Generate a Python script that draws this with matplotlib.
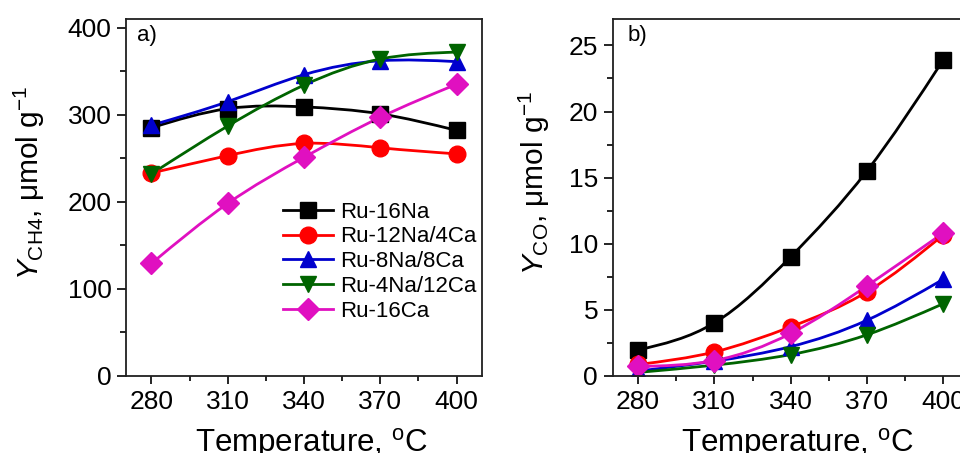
import matplotlib
matplotlib.use("Agg")
import matplotlib.pyplot as plt
import numpy as np
from matplotlib.path import Path
from matplotlib.patches import PathPatch
from matplotlib.lines import Line2D

plt.rcParams['font.family'] = ['Liberation Sans', 'DejaVu Sans']
plt.rcParams['mathtext.fontset'] = 'custom'
plt.rcParams['mathtext.rm'] = 'Liberation Sans'
plt.rcParams['mathtext.it'] = 'Liberation Sans:italic'

temps = [280, 310, 340, 370, 400]
labels = ['Ru-16Na', 'Ru-12Na/4Ca', 'Ru-8Na/8Ca', 'Ru-4Na/12Ca', 'Ru-16Ca']
colors = ['#000000', '#FF0000', '#0000CD', '#006400', '#E010C0']
markers = ['s', 'o', '^', 'v', 'D']
msizes = [11.5, 12, 12, 12, 11]

# methane yield, umol/g
y_ch4_16na = [285, 307, 309, 301, 282]
y_ch4_12na4ca = [233, 253, 267, 262, 255]
y_ch4_8na8ca = [288, 315, 346, 362, 361]
y_ch4_4na12ca = [232, 287, 334, 364, 372]
y_ch4_16ca = [129, 198, 251, 297, 335]

# CO yield, umol/g
y_co_16na = [1.95, 4.0, 9.0, 15.5, 23.9]
y_co_12na4ca = [0.85, 1.8, 3.7, 6.35, 10.65]
y_co_8na8ca = [0.35, 1.1, 2.2, 4.2, 7.3]
y_co_4na12ca = [0.25, 0.8, 1.6, 3.1, 5.45]
y_co_16ca = [0.7, 1.15, 3.2, 6.8, 10.8]

ch4 = [y_ch4_16na, y_ch4_12na4ca, y_ch4_8na8ca, y_ch4_4na12ca, y_ch4_16ca]
co = [y_co_16na, y_co_12na4ca, y_co_8na8ca, y_co_4na12ca, y_co_16ca]


def spline_path(x, y):
    # natural cubic spline through the points, drawn as bezier segments
    x = np.asarray(x, float)
    y = np.asarray(y, float)
    n = len(x)
    h = x[1] - x[0]
    A = np.zeros((n, n))
    b = np.zeros(n)
    A[0, 0], A[0, 1] = 2, 1
    b[0] = 3 * (y[1] - y[0]) / h
    for i in range(1, n - 1):
        A[i, i - 1], A[i, i], A[i, i + 1] = 1, 4, 1
        b[i] = 3 * (y[i + 1] - y[i - 1]) / h
    A[-1, -2], A[-1, -1] = 1, 2
    b[-1] = 3 * (y[-1] - y[-2]) / h
    m = np.linalg.solve(A, b)
    verts = [(x[0], y[0])]
    codes = [Path.MOVETO]
    for i in range(n - 1):
        verts += [(x[i] + h / 3, y[i] + m[i] * h / 3),
                  (x[i + 1] - h / 3, y[i + 1] - m[i + 1] * h / 3),
                  (x[i + 1], y[i + 1])]
        codes += [Path.CURVE4] * 3
    return Path(verts, codes)


def style_axes(ax, ymax, ymajor, yminor):
    ax.set_xlim(270, 410)
    ax.set_ylim(0, ymax)
    ax.set_xticks(temps)
    ax.set_xticks([295, 325, 355, 385], minor=True)
    ax.set_yticks(np.arange(0, ymax, ymajor))
    ax.set_yticks(np.arange(yminor, ymax, ymajor), minor=True)
    ax.tick_params(axis='both', which='both', direction='out', labelsize=19, width=1.2)
    ax.tick_params(axis='x', which='major', length=6, pad=4)
    ax.tick_params(axis='x', which='minor', length=3.5)
    ax.tick_params(axis='y', which='major', length=6.5, pad=4)
    ax.tick_params(axis='y', which='minor', length=4)
    for s in ax.spines.values():
        s.set_linewidth(1.3)
        s.set_color('#202020')
    ax.set_xlabel(r'Temperature, $^{\mathrm{o}}$C', fontsize=22.5)
    ax.xaxis.set_label_coords(0.52, -0.14)


fig = plt.figure(figsize=(9.6, 4.53), dpi=100)
ax1 = fig.add_axes([0.13125, 0.1706, 0.3708, 0.7874])
ax2 = fig.add_axes([0.6382, 0.1706, 0.3708, 0.7874])

for ax, data in [(ax1, ch4), (ax2, co)]:
    for yv, c, mk, ms in zip(data, colors, markers, msizes):
        ax.add_patch(PathPatch(spline_path(temps, yv), facecolor='none',
                               edgecolor=c, lw=2.0))
        ax.plot(temps, yv, ls='none', marker=mk, ms=ms, color=c, mec=c)

style_axes(ax1, 410, 100, 50)
style_axes(ax2, 27, 5, 2.5)

ax1.set_ylabel(r'$Y_{\mathrm{CH4}}$, μmol g$^{-1}$', fontsize=21.5)
ax1.yaxis.set_label_coords(-0.222, 0.54)
ax2.set_ylabel(r'$Y_{\mathrm{CO}}$, μmol g$^{-1}$', fontsize=21.5)
ax2.yaxis.set_label_coords(-0.17, 0.54)

ax1.text(0.031, 0.955, 'a)', transform=ax1.transAxes, fontsize=16, va='center')
ax2.text(0.042, 0.955, 'b)', transform=ax2.transAxes, fontsize=16, va='center')

handles = [Line2D([], [], color=c, marker=mk, ms=ms, lw=2.0)
           for c, mk, ms in zip(colors, markers, msizes)]
ax1.legend(handles, labels, loc='center left', bbox_to_anchor=(0.441, 0.32),
           frameon=False, fontsize=16, handlelength=2.25, handletextpad=0.3,
           labelspacing=0.17, borderpad=0, borderaxespad=0)

fig.savefig('out.png', dpi=100)
